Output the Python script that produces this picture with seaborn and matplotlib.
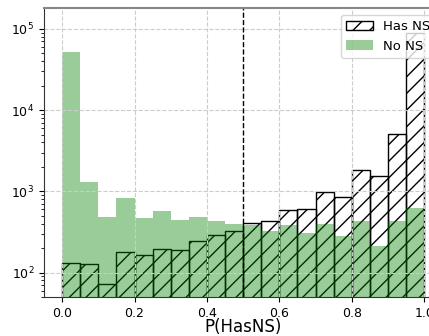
import numpy as np
import pandas as pd
import matplotlib
matplotlib.use("Agg")
import matplotlib.pyplot as plt
import seaborn as sns

bin_edges = [round(0.05 * i, 2) for i in range(21)]
bin_centers = [round(0.025 + 0.05 * i, 3) for i in range(20)]
has_ns = [131, 129, 72, 178, 165, 194, 189, 244, 292, 324,
          410, 430, 590, 611, 972, 859, 1815, 1545, 5060, 90000]
no_ns = [52000, 1290, 482, 820, 473, 567, 438, 478, 430, 395,
         390, 325, 386, 308, 395, 280, 430, 210, 427, 617]

df = pd.DataFrame({"p": bin_centers, "has": has_ns, "no": no_ns})

plt.rcParams["font.family"] = ["DejaVu Sans"]
plt.rcParams["hatch.linewidth"] = 1.0
fig = plt.figure(figsize=(4.29, 3.36), dpi=100)
ax = fig.add_axes([0.1026, 0.116, 0.9284, 0.86])

sns.histplot(data=df, x="p", weights="has", bins=bin_edges, fill=False,
             color="black", hatch="//", linewidth=1.0, label="Has NS", ax=ax)
sns.histplot(data=df, x="p", weights="no", bins=bin_edges, color="green",
             alpha=0.4, linewidth=0, label="No NS", ax=ax)

ax.set_yscale("log")
ax.set_xlim(-0.05, 1.05)
ax.set_ylim(50, 1.8e5)
ax.axvline(0.5, color="black", ls="--", lw=1.0)
ax.grid(True, which="major", ls="--", color="#cccccc", lw=0.8)
ax.set_xlabel("P(HasNS)", fontsize=12, labelpad=-1)
ax.set_ylabel("")
ax.tick_params(labelsize=9)
for s in ["left", "bottom"]:
    ax.spines[s].set_color("#333333")
ax.spines["top"].set_color("#888888")
ax.spines["top"].set_linewidth(1.5)
ax.legend(loc="upper right", fontsize=9.5, framealpha=0.8)

fig.savefig("out.png", dpi=100)
